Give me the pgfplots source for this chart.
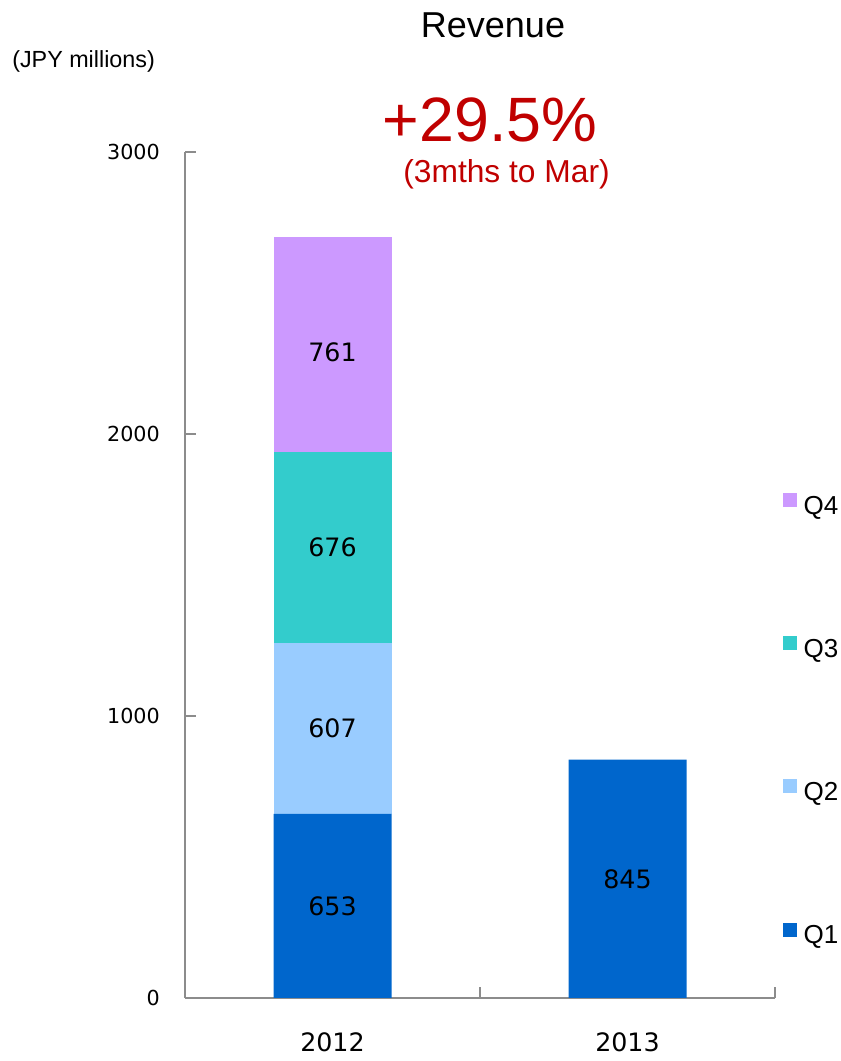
\documentclass[border=0pt]{standalone}
\usepackage{pgfplots}
\pgfplotsset{compat=1.18}
\usepackage{fontspec}
\setmainfont{Liberation Sans}
\newfontfamily\dv{DejaVu Sans}
\protected\def\ytfont{\dv\fontsize{15.5pt}{18pt}\selectfont}
\protected\def\xtfont{\dv\fontsize{19pt}{22pt}\selectfont}
\protected\def\lgfont{\fontsize{19.5pt}{22pt}\selectfont}
\definecolor{qone}{HTML}{0066CC}
\definecolor{qtwo}{HTML}{99CCFF}
\definecolor{qthree}{HTML}{33CCCC}
\definecolor{qfour}{HTML}{CC99FF}
\definecolor{axgrey}{HTML}{8C8C8C}
\definecolor{titlered}{HTML}{C00000}
\pgfplotsset{
  sqlegend/.style={legend image code/.code={\fill[##1] (0pt,0pt) rectangle (10.5pt,10.5pt);}}
}
\begin{document}
\begin{tikzpicture}
\path[use as bounding box] (0,0) rectangle (630pt,795.75pt);
\begin{axis}[
  at={(138.75pt,47.25pt)}, anchor=south west,
  scale only axis, width=442.5pt, height=634.5pt,
  xmin=-0.5, xmax=1.5, ymin=0, ymax=3000,
  ybar stacked, bar width=0.4,
  axis x line*=bottom, axis y line*=left,
  axis line style={draw=axgrey, line width=1.2pt},
  tick align=inside,
  xtick={-0.5,0.5,1.5}, xticklabels={,,},
  major x tick style={draw=axgrey, line width=1.2pt},
  major tick length=8pt,
  extra x ticks={0,1}, extra x tick labels={2012,2013},
  extra x tick style={major tick length=0pt,
    xticklabel style={anchor=north, inner sep=0pt, yshift=-26pt, font=\xtfont}},
  ytick={0,1000,2000,3000}, yticklabels={0,1000,2000,3000},
  major y tick style={draw=axgrey, line width=1.2pt},
  yticklabel style={anchor=east, inner sep=0pt, xshift=-18.75pt, font=\ytfont},
  legend style={at={(1.0136,0.5965)}, anchor=north west, draw=none, fill=none,
    inner sep=0pt, outer sep=0pt, row sep=87.8pt, column sep=5pt,
    font=\lgfont,
    nodes={inner sep=0pt, text height=14pt, text depth=4pt}},
  legend cell align=left,
  reverse legend,
  sqlegend,
  clip=false,
]
\addplot[fill=qone, draw=none] coordinates {(0,653) (1,845)};
\addlegendentry{Q1}
\addplot[fill=qtwo, draw=none] coordinates {(0,607)};
\addlegendentry{Q2}
\addplot[fill=qthree, draw=none] coordinates {(0,676)};
\addlegendentry{Q3}
\addplot[fill=qfour, draw=none] coordinates {(0,761)};
\addlegendentry{Q4}
\coordinate (la) at (axis cs:0,326.5);
\coordinate (lb) at (axis cs:0,956.5);
\coordinate (lc) at (axis cs:0,1598);
\coordinate (ld) at (axis cs:0,2290);
\coordinate (le) at (axis cs:1,422.5);
\end{axis}
\begin{scope}[every node/.style={font=\xtfont, inner sep=0pt}]
\node at (la) {653};
\node at (lb) {607};
\node at (lc) {676};
\node at (ld) {761};
\node at (le) {845};
\end{scope}
\node[font=\fontsize{27pt}{32pt}\selectfont, inner sep=0pt] at (369.75pt,777pt) {Revenue};
\node[font=\fontsize{47pt}{54pt}\selectfont, text=titlered, inner sep=0pt] at (367.5pt,705.5pt) {+29.5\%};
\node[font=\fontsize{23.8pt}{28pt}\selectfont, text=titlered, inner sep=0pt] at (379.9pt,665pt) {(3mths to Mar)};
\node[font=\fontsize{17.5pt}{21pt}\selectfont, inner sep=0pt, anchor=west] at (9pt,749.5pt) {(JPY millions)};
\end{tikzpicture}
\end{document}
